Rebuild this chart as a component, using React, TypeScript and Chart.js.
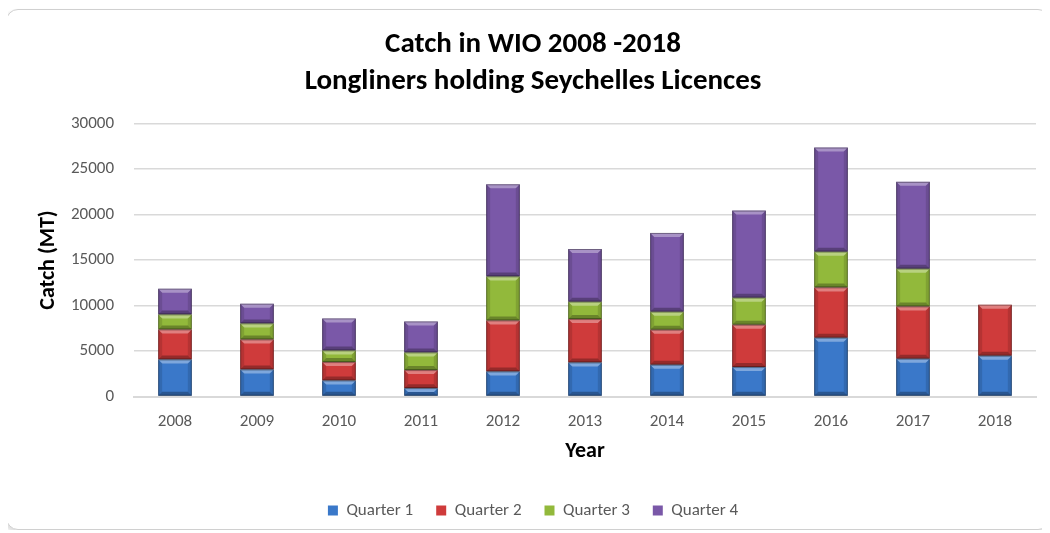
import React, { useEffect, useRef } from "react";
import { Chart, registerables } from "chart.js";

Chart.register(...registerables);

const years = ["2008", "2009", "2010", "2011", "2012", "2013", "2014", "2015", "2016", "2017", "2018"];
const quarter1 = [4070, 2970, 1760, 920, 2750, 3740, 3490, 3230, 6460, 4150, 4480];
const quarter2 = [3300, 3300, 2020, 1980, 5610, 4770, 3850, 4660, 5530, 5750, 5610];
const quarter3 = [1650, 1760, 1280, 1940, 4840, 1910, 1980, 2970, 3930, 4150, 0];
const quarter4 = [2830, 2170, 3520, 3410, 10120, 5790, 8660, 9570, 11440, 9540, 0];
const seriesNames = ["Quarter 1", "Quarter 2", "Quarter 3", "Quarter 4"];
const seriesColors = ["#3a78c9", "#cf3b3b", "#92b93b", "#7a58a8"];
const titleLines = ["Catch in WIO 2008 -2018", "Longliners holding Seychelles Licences"];

const FONT = "Carlito, Calibri, Lato, sans-serif";

const bevelPlugin = {
  id: "bevel",
  afterDatasetsDraw(chart: any) {
    const ctx = chart.ctx;
    chart.data.datasets.forEach((_ds: any, di: number) => {
      const meta = chart.getDatasetMeta(di);
      meta.data.forEach((bar: any) => {
        const { x, y, base, width } = bar.getProps(["x", "y", "base", "width"], true);
        const h = Math.abs(base - y);
        if (h < 1) return;
        const l = x - width / 2;
        const r = x + width / 2;
        const t = Math.min(y, base);
        const btm = Math.max(y, base);
        const b = Math.min(4, h / 2);
        ctx.save();
        ctx.fillStyle = "rgba(255,255,255,0.35)";
        ctx.beginPath();
        ctx.moveTo(l, t); ctx.lineTo(r, t); ctx.lineTo(r - b, t + b); ctx.lineTo(l + b, t + b); ctx.closePath();
        ctx.fill();
        ctx.fillStyle = "rgba(0,0,0,0.28)";
        ctx.beginPath();
        ctx.moveTo(l, btm); ctx.lineTo(r, btm); ctx.lineTo(r - b, btm - b); ctx.lineTo(l + b, btm - b); ctx.closePath();
        ctx.fill();
        ctx.fillStyle = "rgba(0,0,0,0.12)";
        ctx.beginPath();
        ctx.moveTo(l, t); ctx.lineTo(l + b, t + b); ctx.lineTo(l + b, btm - b); ctx.lineTo(l, btm); ctx.closePath();
        ctx.fill();
        ctx.beginPath();
        ctx.moveTo(r, t); ctx.lineTo(r - b, t + b); ctx.lineTo(r - b, btm - b); ctx.lineTo(r, btm); ctx.closePath();
        ctx.fill();
        ctx.strokeStyle = "rgba(0,0,0,0.35)";
        ctx.lineWidth = 1;
        ctx.strokeRect(l + 0.5, t + 0.5, width - 1, h - 1);
        ctx.restore();
      });
    });
  },
};

export default function App() {
  const ref = useRef<HTMLCanvasElement | null>(null);

  useEffect(() => {
    if (!ref.current) return;
    const data = [quarter1, quarter2, quarter3, quarter4];
    const chart = new Chart(ref.current, {
      type: "bar",
      data: {
        labels: years,
        datasets: seriesNames.map((name, i) => ({
          label: name,
          data: data[i],
          backgroundColor: seriesColors[i],
          borderWidth: 0,
          barPercentage: 0.41,
          categoryPercentage: 1,
        })),
      },
      options: {
        animation: false,
        responsive: false,
        maintainAspectRatio: false,
        layout: { padding: { left: 23, right: 13, top: 8, bottom: 0 } },
        plugins: {
          title: {
            display: true,
            text: titleLines,
            color: "#000000",
            font: { family: FONT, size: 29, weight: "bold", lineHeight: 1.25 },
            padding: { top: 9, bottom: 24 },
          },
          legend: {
            position: "bottom",
            labels: {
              boxWidth: 10,
              boxHeight: 10,
              padding: 23,
              color: "#595959",
              font: { family: FONT, size: 17 },
            },
          },
          tooltip: { enabled: false },
        },
        scales: {
          x: {
            stacked: true,
            grid: { display: false, drawTicks: false },
            border: { display: true, color: "#d9d9d9", width: 2 },
            ticks: { color: "#595959", font: { family: FONT, size: 17 }, padding: 15, maxRotation: 0 },
            title: {
              display: true,
              text: "Year",
              color: "#000000",
              font: { family: FONT, size: 22, weight: "bold" },
              padding: { top: 0, bottom: 14 },
            },
            afterFit: (scale: any) => { scale.height = 82.5; },
          },
          y: {
            stacked: true,
            min: 0,
            max: 30000,
            grid: { color: "#d9d9d9", lineWidth: 1.5, drawTicks: false },
            border: { display: false },
            ticks: {
              stepSize: 5000,
              color: "#595959",
              font: { family: FONT, size: 17 },
              padding: 20,
              callback: (v: any) => String(v),
            },
            title: {
              display: true,
              text: "Catch (MT)",
              color: "#000000",
              font: { family: FONT, size: 22, weight: "bold" },
              padding: { top: 5, bottom: 0 },
            },
            afterFit: (scale: any) => { scale.width = 104; },
          },
        },
      },
      plugins: [bevelPlugin],
    });
    return () => chart.destroy();
  }, []);

  return (
    <div
      style={{
        position: "relative",
        marginLeft: -2,
        marginTop: 1,
        width: 1044,
        height: 521,
        border: "1px solid #d0d0d0",
        borderRadius: 12,
        boxShadow: "-2px 2px 3px rgba(0,0,0,0.12)",
        background: "#ffffff",
        boxSizing: "border-box",
      }}
    >
      <canvas ref={ref} width={1042} height={519} style={{ display: "block" }} />
    </div>
  );
}
